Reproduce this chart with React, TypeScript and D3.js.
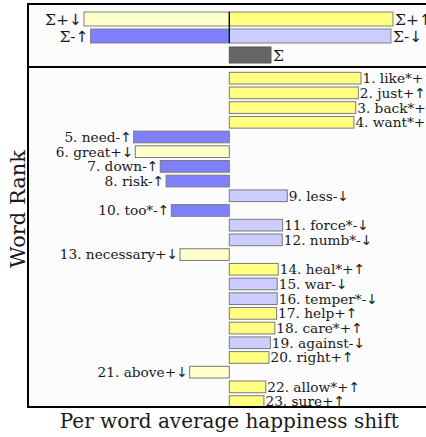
import * as d3 from 'd3'

// word shift rows, in rank order
const words = ['like*', 'just', 'back*', 'want*', 'need', 'great', 'down', 'risk', 'less', 'too*',
  'force*', 'numb*', 'necessary', 'heal*', 'war', 'temper*', 'help', 'care*', 'against', 'right',
  'above', 'allow*', 'sure']
const shifts = [0.654, 0.641, 0.628, 0.619, -0.475, -0.467, -0.343, -0.314, 0.288, -0.288,
  0.265, 0.263, -0.245, 0.243, 0.238, 0.238, 0.235, 0.226, 0.204, 0.197,
  -0.197, 0.181, 0.172]
// + / - : word happier or sadder than average ; up/down : used more or less
const signs = ['+', '+', '+', '+', '-', '+', '-', '-', '-', '-',
  '-', '-', '+', '+', '-', '-', '+', '+', '-', '+',
  '+', '+', '+']
const arrows = ['↑', '↑', '↑', '↑', '↑', '↓', '↑', '↑', '↓', '↑',
  '↓', '↓', '↓', '↑', '↓', '↓', '↑', '↑', '↓', '↑',
  '↓', '↑', '↑']

// summary bars
const sumSigns = ['+', '+', '-', '-', '']
const sumArrows = ['↓', '↑', '↑', '↓', '']
const sumValues = [-0.722, 0.813, -0.689, 0.803, 0.207]
const sumRows = [0, 0, 1, 1, 2]

const COLORS: Record<string, string> = {
  '+↑': '#ffff80',
  '+↓': '#ffffcc',
  '-↑': '#8080ff',
  '-↓': '#ccccff',
}

const W = 426
const H = 437
const FONT = "'DejaVu Serif', serif"
const ARROW_FONT = "'DejaVu Sans', sans-serif"

export default function App() {
  const left = 28
  const right = 430.6
  const x = d3.scaleLinear().domain([-1, 1]).range([left, right])
  const cx = x(0)

  const topY0 = 4
  const topY1 = 67
  const botY1 = 407
  const y = d3.scaleLinear().domain([0.24, 23.37]).range([topY1, botY1])
  const barH = 11.7

  const sumTop = [12, 29, 47]
  const sumH = [14, 14, 16]

  const rows = words.map((w, i) => ({
    rank: i + 1,
    value: shifts[i],
    text: `${i + 1}. ${w}${signs[i]}`,
    arrow: arrows[i],
    color: COLORS[signs[i] + arrows[i]],
  }))

  return (
    <svg width={W} height={H} style={{ position: 'absolute', left: 0, top: 0, fontFamily: FONT }}>
      <defs>
        <clipPath id="bot-clip">
          <rect x={left} y={topY1} width={right - left} height={botY1 - topY1} />
        </clipPath>
      </defs>
      <rect x={0} y={0} width={W} height={H} fill="#ffffff" />
      <rect x={left} y={topY0} width={right - left} height={botY1 - topY0} fill="#fcfcfc" />

      {/* summary panel */}
      {sumValues.map((v, i) => {
        const r = sumRows[i]
        const x0 = Math.min(x(0), x(v))
        const w = Math.abs(x(v) - x(0))
        const fill = i === 4 ? '#666666' : COLORS[sumSigns[i] + sumArrows[i]]
        const ty = sumTop[r] + sumH[r] / 2
        return (
          <g key={i}>
            <rect x={x0} y={sumTop[r]} width={w} height={sumH[r]} fill={fill}
              stroke={i === 4 ? '#555555' : '#808080'} strokeWidth={1} />
            <text x={v < 0 ? x(v) - 2 : x(v) + 2} y={ty} dy="0.36em" fontSize={15.5}
              textAnchor={v < 0 ? 'end' : 'start'} fill="#1a1a1a">
              Σ{sumSigns[i]}<tspan fontFamily={ARROW_FONT}>{sumArrows[i]}</tspan>
            </text>
          </g>
        )
      })}
      <line x1={cx} x2={cx} y1={sumTop[0]} y2={sumTop[1] + sumH[1]} stroke="#000" strokeWidth={1.2} />

      {/* word bars */}
      <g clipPath="url(#bot-clip)">
        {rows.map(d => {
          const x0 = Math.min(x(0), x(d.value))
          const w = Math.abs(x(d.value) - x(0))
          const yc = y(d.rank)
          return (
            <g key={d.rank}>
              <rect x={x0} y={yc - barH / 2} width={w} height={barH} fill={d.color}
                stroke="#7a7a7a" strokeWidth={1} />
              <text x={d.value < 0 ? x(d.value) - 2 : x(d.value) + 1.5} y={yc} dy="0.36em"
                fontSize={13.7} textAnchor={d.value < 0 ? 'end' : 'start'} fill="#1a1a1a">
                {d.text}<tspan fontFamily={ARROW_FONT}>{d.arrow}</tspan>
              </text>
            </g>
          )
        })}
      </g>

      {/* frames */}
      <rect x={left} y={topY0} width={right - left} height={topY1 - topY0} fill="none" stroke="#000" strokeWidth={2} />
      <rect x={left} y={topY1} width={right - left} height={botY1 - topY1} fill="none" stroke="#000" strokeWidth={2} />

      <text transform={`translate(25,209) rotate(-90)`} textAnchor="middle" fontSize={21} fill="#1a1a1a">Word Rank</text>
      <text x={cx} y={428} textAnchor="middle" fontSize={20} fill="#1a1a1a">Per word average happiness shift</text>
    </svg>
  )
}
